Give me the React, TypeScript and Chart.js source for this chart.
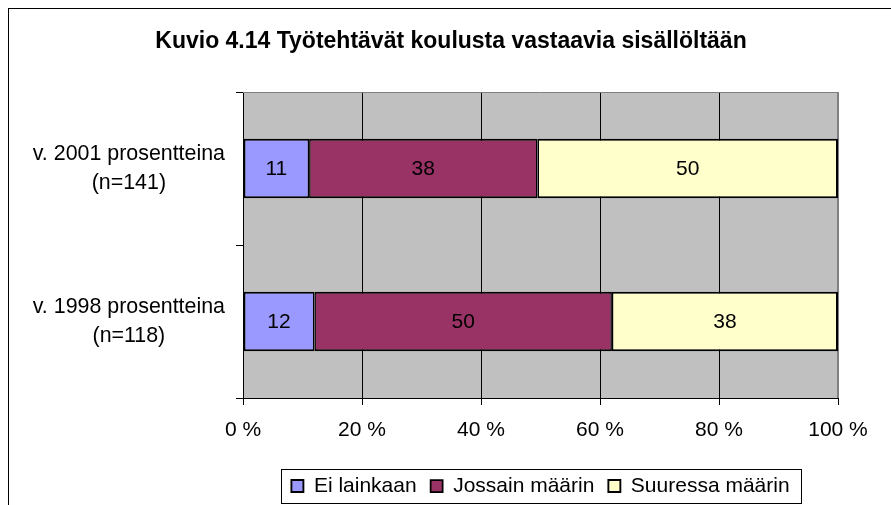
import { useEffect, useRef } from 'react';
import { Chart, registerables } from 'chart.js';

Chart.register(...registerables);

const chartTitle = 'Kuvio 4.14 Työtehtävät koulusta vastaavia sisällöltään';
const categories = [
  ['v. 2001 prosentteina', '(n=141)'],
  ['v. 1998 prosentteina', '(n=118)'],
];
const seriesNames = ['Ei lainkaan', 'Jossain määrin', 'Suuressa määrin'];
const eiLainkaan = [11, 12];
const jossainMaarin = [38, 50];
const suuressaMaarin = [50, 38];
const seriesColors = ['#9999FF', '#993366', '#FFFFCC'];
const xMin = 0;
const xMax = 100;
const xStep = 20;

const FONT = '"Liberation Sans", Arial, sans-serif';

const seriesValues = [eiLainkaan, jossainMaarin, suuressaMaarin];
const totals = categories.map((_, j) => seriesValues.reduce((s, arr) => s + arr[j], 0));

const borderWidths = [
  { top: 2, bottom: 2, left: 2, right: 1.5 },
  { top: 2, bottom: 2, left: 1.5, right: 1.5 },
  { top: 2, bottom: 2, left: 1.5, right: 2 },
];

const framePlugin = {
  id: 'framePlugin',
  afterLayout(chart: any) {
    const ca = chart.chartArea;
    if (chart.titleBlock) {
      chart.titleBlock.left = 0;
      chart.titleBlock.right = chart.width;
      chart.titleBlock.width = chart.width;
    }
    const lg = chart.legend;
    if (lg) {
      lg.left = ca.left;
      lg.right = ca.right;
      lg.width = ca.right - ca.left;
    }
  },
  beforeDraw(chart: any) {
    const { ctx, chartArea: ca } = chart;
    ctx.save();
    ctx.fillStyle = '#C0C0C0';
    ctx.fillRect(ca.left, ca.top, ca.right - ca.left, ca.bottom - ca.top);
    ctx.restore();
  },
  beforeDatasetsDraw(chart: any) {
    const { ctx, chartArea: ca } = chart;
    ctx.save();
    ctx.strokeStyle = '#808080';
    ctx.lineWidth = 1;
    ctx.beginPath();
    ctx.moveTo(ca.left, Math.round(ca.top) + 0.5);
    ctx.lineTo(ca.right, Math.round(ca.top) + 0.5);
    ctx.moveTo(Math.round(ca.right) - 0.5, ca.top);
    ctx.lineTo(Math.round(ca.right) - 0.5, ca.bottom);
    ctx.stroke();
    ctx.restore();
  },
  afterDatasetsDraw(chart: any) {
    const { ctx } = chart;
    ctx.save();
    ctx.fillStyle = '#000';
    ctx.font = `21px ${FONT}`;
    ctx.textAlign = 'center';
    ctx.textBaseline = 'middle';
    chart.data.datasets.forEach((ds: any, i: number) => {
      const meta = chart.getDatasetMeta(i);
      meta.data.forEach((el: any, j: number) => {
        const p = el.getCenterPoint();
        ctx.fillText(String(ds.rawValues[j]), p.x, p.y + 1);
      });
    });
    ctx.restore();
  },
  afterDraw(chart: any) {
    const lg = chart.legend;
    if (!lg || !lg.lineWidths) return;
    const { ctx } = chart;
    const padding = lg.options.labels.padding;
    const lw = lg.lineWidths[0];
    const x0 = (lg.left + padding + lg.right - lw) / 2;
    const x1 = x0 + lw - padding;
    const itemHeight = 21;
    const cy = lg.top + padding + itemHeight / 2;
    ctx.save();
    ctx.strokeStyle = '#000';
    ctx.lineWidth = 1;
    const left = Math.round(x0 - 10) + 0.5;
    const right = Math.round(x1 + 11) + 0.5;
    const top = Math.round(cy - 17) + 0.5;
    const bottom = Math.round(cy + 17) + 0.5;
    ctx.strokeRect(left, top, right - left, bottom - top);
    ctx.restore();
  },
};

export default function App() {
  const ref = useRef<HTMLCanvasElement>(null);

  useEffect(() => {
    const datasets = seriesNames.map((name, i) => ({
      label: name,
      data: seriesValues[i].map((v, j) => (v / totals[j]) * 100),
      rawValues: seriesValues[i],
      backgroundColor: seriesColors[i],
      borderColor: '#000',
      borderWidth: borderWidths[i],
      borderSkipped: false,
      barPercentage: 0.39,
      categoryPercentage: 1,
    }));

    const chart = new Chart(ref.current as HTMLCanvasElement, {
      type: 'bar',
      data: { labels: categories as any, datasets: datasets as any },
      options: {
        indexAxis: 'y',
        animation: false,
        responsive: false,
        maintainAspectRatio: false,
        layout: { padding: { left: 0, right: 55, top: 0, bottom: 2.5 } },
        scales: {
          x: {
            stacked: true,
            min: xMin,
            max: xMax,
            ticks: {
              stepSize: xStep,
              autoSkip: false,
              maxRotation: 0,
              padding: 13,
              color: '#000',
              font: { family: FONT, size: 21 },
              callback: (v: any) => `${v} %`,
            },
            grid: {
              color: (c: any) => (c.tick && c.tick.value === xMax ? '#808080' : '#000'),
              lineWidth: 1,
              tickLength: 7,
              tickColor: '#000',
            },
            border: { color: '#000', width: 1 },
            afterFit: (s: any) => {
              s.height = 63.5;
            },
          },
          y: {
            stacked: true,
            ticks: {
              color: '#000',
              padding: 11,
              crossAlign: 'center',
              font: { family: FONT, size: 21.4, lineHeight: 1.33 },
            },
            grid: {
              drawOnChartArea: false,
              offset: true,
              tickLength: 7,
              color: '#000',
              tickColor: '#000',
            },
            border: { color: '#000', width: 1 },
            afterFit: (s: any) => {
              s.width = 234;
            },
          },
        },
        plugins: {
          title: {
            display: true,
            text: chartTitle,
            color: '#000',
            font: { family: FONT, size: 23, weight: 'bold' },
            padding: { top: 19, bottom: 36.4 },
          },
          legend: {
            position: 'bottom',
            labels: {
              boxWidth: 12,
              boxHeight: 12,
              padding: 14,
              color: '#000',
              font: { family: FONT, size: 21 },
            },
          },
          tooltip: { enabled: false },
        },
      } as any,
      plugins: [framePlugin],
    });
    return () => chart.destroy();
  }, []);

  return (
    <div
      style={{
        position: 'fixed',
        left: 0,
        top: 0,
        width: 891,
        height: 505,
        overflow: 'hidden',
        background: '#fff',
      }}
    >
      <div
        style={{
          position: 'absolute',
          left: 8,
          top: 8,
          width: 884,
          height: 500,
          border: '1px solid #000',
        }}
      >
        <canvas
          ref={ref}
          width={884}
          height={500}
          style={{ display: 'block', width: 884, height: 500 }}
        />
      </div>
    </div>
  );
}
